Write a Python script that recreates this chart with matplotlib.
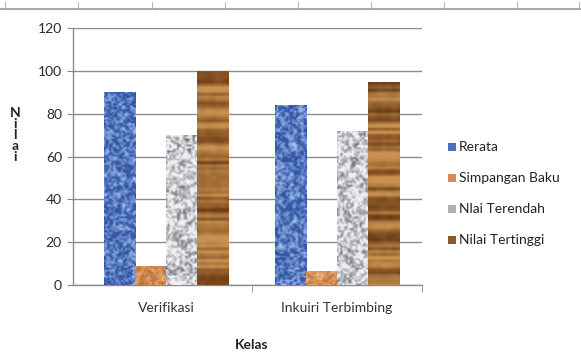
import numpy as np
import matplotlib
matplotlib.use("Agg")
import matplotlib.pyplot as plt
from matplotlib.patches import Rectangle
from matplotlib.lines import Line2D

# ---- data ----
categories = ["Verifikasi", "Inkuiri Terbimbing"]
series_names = ["Rerata", "Simpangan Baku", "Nlai Terendah", "Nilai Tertinggi"]
rerata = [90, 84]
simpangan_baku = [9, 6.5]
nilai_terendah = [70, 72]
nilai_tertinggi = [100, 95]
y_ticks = [0, 20, 40, 60, 80, 100, 120]

series_values = [rerata, simpangan_baku, nilai_terendah, nilai_tertinggi]

W, H = 581, 355
plt.rcParams["font.family"] = ["Lato", "DejaVu Sans"]

rng = np.random.default_rng(3)


def smooth_noise(ny, nx, cell):
    """Value noise upsampled from a coarse grid."""
    gy, gx = max(2, ny // cell + 2), max(2, nx // cell + 2)
    g = rng.random((gy, gx))
    yy = np.linspace(0, gy - 1.001, ny)
    xx = np.linspace(0, gx - 1.001, nx)
    y0 = yy.astype(int); x0 = xx.astype(int)
    fy = (yy - y0)[:, None]; fx = (xx - x0)[None, :]
    a = g[y0][:, x0]; b = g[y0][:, x0 + 1]
    c = g[y0 + 1][:, x0]; d = g[y0 + 1][:, x0 + 1]
    return (a * (1 - fx) + b * fx) * (1 - fy) + (c * (1 - fx) + d * fx) * fy


def blend(t, dark, light):
    dark = np.array(dark) / 255.0
    light = np.array(light) / 255.0
    t = np.clip(t, 0, 1)[..., None]
    return dark * (1 - t) + light * t


def texture(kind, ny, nx):
    if kind == 0:  # blue woven fabric
        n = 0.65 * smooth_noise(ny, nx, 2) + 0.35 * smooth_noise(ny, nx, 4)
        weave = 0.15 * (np.indices((ny, nx)).sum(0) % 3 == 0)
        t = (n - 0.35) * 1.8 + weave
        return blend(t, (50, 85, 165), (165, 195, 240))
    if kind == 1:  # orange grainy texture
        n = 0.5 * smooth_noise(ny, nx, 2) + 0.5 * smooth_noise(ny, nx, 5)
        return blend((n - 0.3) * 1.8, (195, 115, 60), (240, 195, 140))
    if kind == 2:  # gray granite
        n = 0.6 * smooth_noise(ny, nx, 2) + 0.4 * smooth_noise(ny, nx, 4)
        return blend((n - 0.12) * 1.9, (110, 110, 120), (240, 240, 242))
    # wood grain: horizontal bands
    rows = 0.55 * smooth_noise(ny, 1, 3)[:, :1] + 0.45 * smooth_noise(ny, 1, 9)[:, :1]
    n = rows + 0.12 * smooth_noise(ny, nx, 6)
    return blend((n - 0.2) * 1.7, (110, 62, 22), (200, 145, 80))


legend_colors = ["#4a6fbf", "#d9895a", "#b0b0b4", "#8a5a2b"]

fig = plt.figure(figsize=(W / 100, H / 100), dpi=100)
ax_left, ax_right, ax_top, ax_bottom = 73, 422, 28, 285
ax = fig.add_axes([ax_left / W, 1 - ax_bottom / H,
                   (ax_right - ax_left) / W, (ax_bottom - ax_top) / H])

x = np.arange(len(categories))
bar_w = 0.182
offsets = (np.arange(len(series_names)) - 1.5) * bar_w
px_per_unit_x = (ax_right - ax_left) / 2.047
px_per_unit_y = (ax_bottom - ax_top) / 120.0

ax.set_xlim(-0.547, 1.5)
ax.set_ylim(0, 120)

for k, vals in enumerate(series_values):
    bars = ax.bar(x + offsets[k], vals, width=bar_w, color="none",
                  edgecolor="none", zorder=3, label=series_names[k])
    for b in bars:
        x0, w_ = b.get_x(), b.get_width()
        h = b.get_height()
        nx = max(4, int(w_ * px_per_unit_x))
        ny = max(4, int(h * px_per_unit_y))
        img = texture(k, ny, nx)
        im = ax.imshow(img, extent=(x0, x0 + w_, 0, h), origin="lower",
                       aspect="auto", interpolation="bilinear", zorder=3)
        im.set_clip_path(b)

ax.set_xlim(-0.547, 1.5)
ax.set_ylim(0, 120)

# grid and spines
ax.set_yticks(y_ticks)
ax.yaxis.grid(True, color="#8c8c8c", linewidth=1.0, zorder=0)
ax.set_axisbelow(True)
for s in ["top", "right"]:
    ax.spines[s].set_visible(False)
for s in ["left", "bottom"]:
    ax.spines[s].set_color("#8c8c8c")
    ax.spines[s].set_linewidth(1.0)

ax.tick_params(axis="y", length=4, color="#8c8c8c", labelsize=10,
               labelcolor="#2a2a2a", pad=4)
ax.set_xticks(x)
ax.set_xticklabels(categories, fontsize=10, color="#333333")
ax.tick_params(axis="x", which="major", length=0, pad=12)
ax.set_xticks([0.5, 1.5], minor=True)
ax.tick_params(axis="x", which="minor", length=5, color="#8c8c8c")

# axis titles
fig.text(15 / W, 1 - 135 / H, "N\ni\nl\na\ni", fontsize=10, fontweight="bold",
         ha="center", va="center", linespacing=0.92, color="#222222")
fig.text(252 / W, 1 - 345 / H, "Kelas", fontsize=10, fontweight="bold",
         ha="center", va="center", color="#222222")

# legend
leg_y = [147, 178, 209, 240]
for name, col, yy in zip(series_names, legend_colors, leg_y):
    fig.patches.append(Rectangle(((448) / W, 1 - (yy + 4) / H), 8 / W, 8 / H,
                                 transform=fig.transFigure, facecolor=col,
                                 edgecolor="none"))
    fig.text(459 / W, 1 - yy / H, name, fontsize=10, ha="left", va="center",
             color="#222222")

# sheet border line along the top
fig.lines.append(Line2D([0, 1], [1 - 9 / H, 1 - 9 / H], transform=fig.transFigure,
                        color="#a8a8a8", linewidth=1.5))
for tx in [5, 78, 152, 225, 298, 371, 444, 517, 579]:
    fig.lines.append(Line2D([tx / W, tx / W], [1 - 2 / H, 1 - 9 / H],
                            transform=fig.transFigure, color="#b8b8b8",
                            linewidth=0.8))

fig.savefig("out.png", dpi=100)
